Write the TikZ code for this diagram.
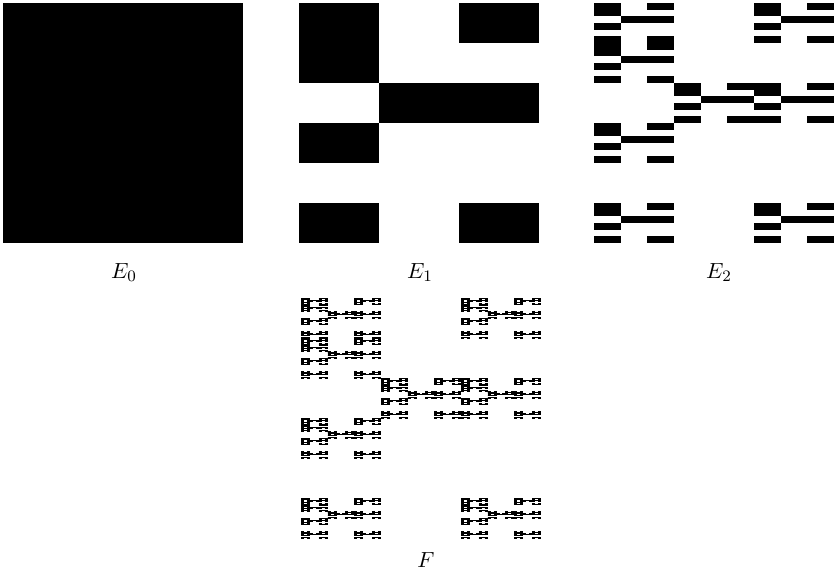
\documentclass[tikz,border=0pt]{standalone}
\begin{document}
\begin{tikzpicture}[x=0.5pt, y=-0.5pt,
    stagelabel/.style={font=\fontsize{11}{13}\selectfont, anchor=base},
    fineline/.style={draw=black, line width=0.3pt}]

    %----- PAGE -----
    \useasboundingbox (0,0) rectangle (840,570);

    % kept cells of the 3 x 6 grid: column/row (row 0 on top)
    \def\cells{0/0,2/0,0/1,1/2,2/2,0/3,0/5,2/5}

    %----- E_0 : THE WHOLE SQUARE -----
    \fill (3,3) rectangle ++(240,240);
    \node[stagelabel] (labelE0) at (124,278) {$E_0$};

    %----- E_1 : FIRST STEP -----
    \foreach \ca/\ra in \cells {
        \fill ({299 + \ca*80}, {3 + \ra*40}) rectangle ++(80,40);
    }
    \node[stagelabel] (labelE1) at (420,278) {$E_1$};

    %----- E_2 : SECOND STEP -----
    \foreach \ca/\ra in \cells {
        \foreach \cb/\rb in \cells {
            \fill ({594 + \ca*80 + \cb*80/3}, {3 + \ra*40 + \rb*40/6})
                rectangle ++(80/3, 40/6);
        }
    }
    \node[stagelabel] (labelE2) at (719,278) {$E_2$};

    %----- F : FOURTH STEP AS THE LIMIT (cells as thin bars) -----
    \foreach \ca/\ra in \cells {
        \pgfmathsetmacro{\xa}{301 + \ca*80}
        \pgfmathsetmacro{\ya}{298 + \ra*40}
        \foreach \cb/\rb in \cells {
            \pgfmathsetmacro{\xb}{\xa + \cb*80/3}
            \pgfmathsetmacro{\yb}{\ya + \rb*40/6}
            \foreach \cc/\rc in \cells {
                \pgfmathsetmacro{\xc}{\xb + \cc*80/9}
                \pgfmathsetmacro{\yc}{\yb + \rc*40/36}
                \foreach \cd/\rd in \cells {
                    \draw[fineline] ({\xc + \cd*80/27}, {\yc + \rd*40/216 + 0.1})
                        -- ++(80/27, 0);
                }
            }
        }
    }
    \node[stagelabel] (labelF) at (426,567) {$F$};

\end{tikzpicture}
\end{document}
